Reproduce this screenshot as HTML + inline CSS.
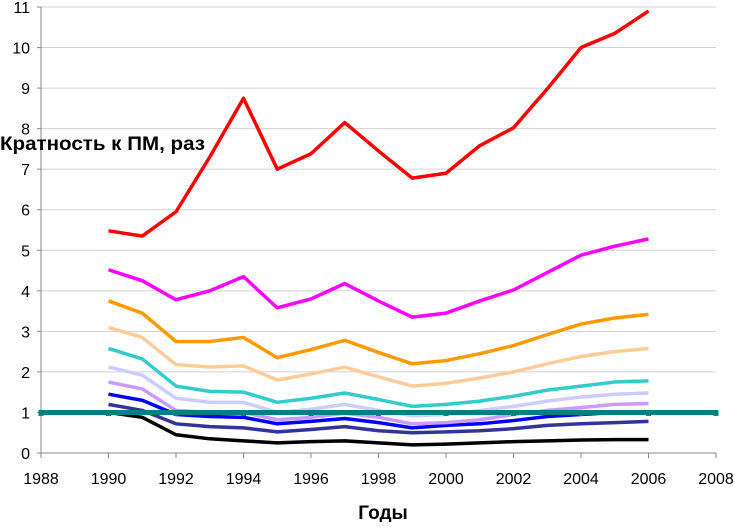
<!DOCTYPE html>
<html><head><meta charset="utf-8"><style>
body{margin:0;background:#fff;width:735px;height:522px;overflow:hidden}
text{font-family:"Liberation Sans",Arial,sans-serif}
</style></head><body>
<svg id="chart" width="735" height="522" xmlns="http://www.w3.org/2000/svg">
<g id="grid"></g><g id="axes"></g><g id="series"></g>
<text x="0" y="150" font-size="19" font-weight="bold" fill="#000" textLength="205" lengthAdjust="spacingAndGlyphs">Кратность к ПМ, раз</text>
<text x="383" y="519" font-size="19" font-weight="bold" text-anchor="middle" fill="#000">Годы</text>
</svg>
<script>
const years=[1990,1991,1992,1993,1994,1995,1996,1997,1998,1999,2000,2001,2002,2003,2004,2005,2006];
const xTicks=[1988,1990,1992,1994,1996,1998,2000,2002,2004,2006,2008];
const yTicks=[0,1,2,3,4,5,6,7,8,9,10,11];
const sRed=[5.48,5.35,5.95,7.3,8.75,7.0,7.38,8.15,7.45,6.78,6.9,7.58,8.02,8.98,10.0,10.35,10.9];
const sMagenta=[4.52,4.25,3.78,4.0,4.35,3.58,3.8,4.18,3.75,3.35,3.45,3.75,4.02,4.45,4.88,5.1,5.28];
const sOrange=[3.75,3.45,2.75,2.75,2.85,2.35,2.55,2.78,2.48,2.2,2.28,2.45,2.65,2.92,3.18,3.33,3.42];
const sPeach=[3.1,2.85,2.18,2.12,2.15,1.8,1.95,2.12,1.88,1.65,1.72,1.85,2.0,2.2,2.38,2.5,2.58];
const sTeal=[2.58,2.32,1.65,1.52,1.5,1.25,1.35,1.48,1.32,1.15,1.2,1.28,1.4,1.55,1.65,1.75,1.78];
const sLavender=[2.12,1.92,1.35,1.25,1.25,1.0,1.08,1.2,1.05,0.92,0.95,1.05,1.15,1.28,1.38,1.45,1.48];
const sViolet=[1.75,1.58,1.05,1.0,1.0,0.82,0.88,0.98,0.88,0.72,0.75,0.82,0.95,1.05,1.12,1.2,1.22];
const sBlue=[1.45,1.3,0.95,0.9,0.88,0.72,0.78,0.85,0.75,0.62,0.68,0.72,0.8,0.9,0.95,1.0,1.0];
const sSlate=[1.2,1.05,0.72,0.65,0.62,0.52,0.58,0.65,0.55,0.5,0.52,0.55,0.6,0.68,0.72,0.75,0.78];
const sBlack=[1.0,0.88,0.45,0.35,0.3,0.25,0.28,0.3,0.25,0.2,0.22,0.25,0.28,0.3,0.32,0.33,0.33];
const pmLevel=[1,1];
const pmYears=[1988,2008];
const NS="http://www.w3.org/2000/svg";
const X=v=>41+(v-1988)*(716-41)/20;
const Y=v=>453-v*(453-7)/11;
function mk(t,a,p){const e=document.createElementNS(NS,t);for(const k in a)e.setAttribute(k,a[k]);p.appendChild(e);return e;}
const grid=document.getElementById('grid'),axes=document.getElementById('axes'),ser=document.getElementById('series');
yTicks.forEach(t=>{
 if(t>0){const g=mk('line',{x1:41,x2:716,y1:Y(t),y2:Y(t),stroke:'#d0d0d0','stroke-width':1},grid);
 
 }
 const tx=mk('text',{x:30,y:Y(t)+6,'font-size':16,'text-anchor':'end',fill:'#000'},axes);tx.textContent=t;
 
 
 mk('line',{x1:37,x2:41,y1:Y(t),y2:Y(t),stroke:'#888'},axes);
});
xTicks.forEach(t=>{
 const tx=mk('text',{x:X(t),y:484,'font-size':16,'text-anchor':'middle',fill:'#000'},axes);tx.textContent=t;
 
 
 mk('line',{x1:X(t),x2:X(t),y1:453,y2:458,stroke:'#888'},axes);
});
const ya=mk('line',{x1:41,x2:41,y1:7,y2:453,stroke:'#888'},axes);


const xa=mk('line',{x1:41,x2:716,y1:453,y2:453,stroke:'#888'},axes);


const series=[[sBlack,'#000000','black'],[sSlate,'#333399','slate'],[sBlue,'#0000ff','blue'],[sViolet,'#cc99ff','violet'],[sLavender,'#ccccff','lavender'],[sTeal,'#33cccc','teal'],[sPeach,'#ffcc99','peach'],[sOrange,'#ff9900','orange'],[sMagenta,'#ff00ff','magenta'],[sRed,'#ff0000','red']];
series.forEach(([d,c,n])=>{
 const p=mk('polyline',{points:d.map((v,i)=>X(years[i])+','+Y(v)).join(' '),fill:'none',stroke:c,'stroke-width':3.5,'stroke-linejoin':'round'},ser);
 
 
});
const pm=mk('line',{x1:X(pmYears[0]),x2:X(pmYears[1]),y1:Y(pmLevel[0]),y2:Y(pmLevel[1]),stroke:'#008080','stroke-width':5},ser);


[pmYears[0]].concat(xTicks.slice(1)).forEach(t=>{
 const r=mk('rect',{x:X(t)-2.5,y:Y(pmLevel[0])-2.5,width:5,height:6,fill:'#008080'},ser);
 
 
});
</script>
</body></html>
